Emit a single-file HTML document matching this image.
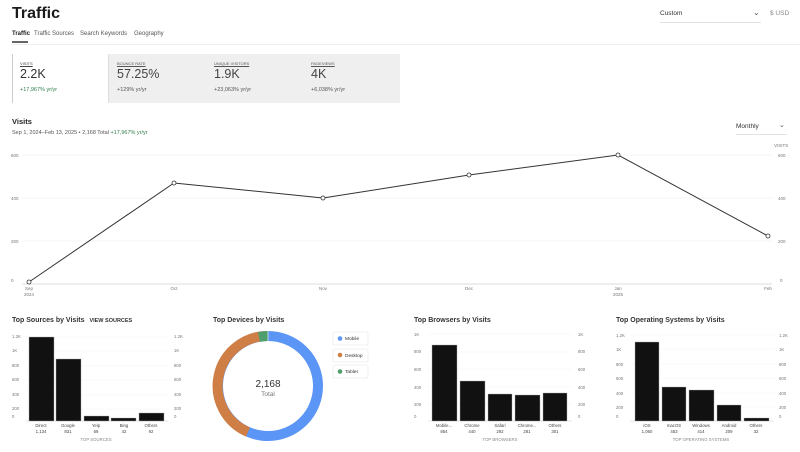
<!DOCTYPE html>
<html><head><meta charset="utf-8"><style>
body{margin:0;width:800px;height:452px;background:#fff;font-family:"Liberation Sans",sans-serif;color:#222;position:relative;overflow:hidden}
.a{position:absolute;white-space:nowrap}
</style></head><body>
<div class="a" style="left:12px;top:5px;font-size:16px;font-weight:bold;color:#1a1a1a">Traffic</div>
<div class="a" style="left:12px;top:31px;font-size:6px;font-weight:bold">Traffic</div>
<div class="a" style="left:34px;top:31px;font-size:6px;color:#555">Traffic Sources</div>
<div class="a" style="left:80px;top:31px;font-size:6px;color:#555">Search Keywords</div>
<div class="a" style="left:134px;top:31px;font-size:6px;color:#555">Geography</div>
<div class="a" style="left:12px;top:41px;width:16px;height:2px;background:#666"></div>
<div class="a" style="left:12px;top:44px;width:788px;height:1px;background:#eee"></div>
<div class="a" style="left:660px;top:10px;font-size:6.5px;color:#333">Custom</div>
<div class="a" style="left:753px;top:8px;font-size:8px;color:#555">&#8964;</div>
<div class="a" style="left:660px;top:22px;width:101px;height:1px;background:#e3e3e3"></div>
<div class="a" style="left:770px;top:10px;font-size:6.5px;color:#888">$ USD</div>
<div class="a" style="left:12px;top:54px;width:1px;height:49px;background:#ccc"></div>
<div class="a" style="left:108px;top:54px;width:291px;height:49px;background:#efefef;border-left:1px solid #ddd"></div>
<div class="a" style="left:20px;top:61px;font-size:4px;color:#444;text-decoration:underline">VISITS</div>
<div class="a" style="left:20px;top:67px;font-size:12.5px;color:#333">2.2K</div>
<div class="a" style="left:20px;top:87px;font-size:5.5px;color:#2e7d4a">+17,967% yr/yr</div>
<div class="a" style="left:117px;top:61px;font-size:4px;color:#555;text-decoration:underline">BOUNCE RATE</div>
<div class="a" style="left:117px;top:67px;font-size:12.5px;color:#444">57.25%</div>
<div class="a" style="left:117px;top:87px;font-size:5.5px;color:#555">+129% yr/yr</div>
<div class="a" style="left:214px;top:61px;font-size:4px;color:#555;text-decoration:underline">UNIQUE VISITORS</div>
<div class="a" style="left:214px;top:67px;font-size:12.5px;color:#444">1.9K</div>
<div class="a" style="left:214px;top:87px;font-size:5.5px;color:#555">+23,063% yr/yr</div>
<div class="a" style="left:311px;top:61px;font-size:4px;color:#555;text-decoration:underline">PAGEVIEWS</div>
<div class="a" style="left:311px;top:67px;font-size:12.5px;color:#444">4K</div>
<div class="a" style="left:311px;top:87px;font-size:5.5px;color:#555">+6,038% yr/yr</div>
<div class="a" style="left:12px;top:117px;font-size:7.5px;font-weight:bold">Visits</div>
<div class="a" style="left:12px;top:130px;font-size:5.5px;color:#555">Sep 1, 2024–Feb 13, 2025 • 2,168 Total <span style="color:#2e7d4a">+17,967% yr/yr</span></div>
<div class="a" style="left:736px;top:123px;font-size:6.5px;color:#333">Monthly</div>
<div class="a" style="left:779px;top:121px;font-size:7px;color:#555">&#8964;</div>
<div class="a" style="left:736px;top:134px;width:51px;height:1px;background:#e3e3e3"></div>
<svg class="a" style="left:0;top:0" width="800" height="452" font-family="Liberation Sans" font-size="4.5" fill="#777">
<text x="774" y="147" >VISITS</text>
<g stroke="#f0f0f0" stroke-width="0.7"><line x1="22" y1="155" x2="772" y2="155"/><line x1="22" y1="198" x2="772" y2="198"/><line x1="22" y1="241" x2="772" y2="241"/></g>
<line x1="22" y1="284" x2="772" y2="284" stroke="#ddd" stroke-width="1"/>
<text x="11" y="157">600</text><text x="11" y="200">400</text><text x="11" y="243">200</text><text x="11" y="282">0</text>
<text x="778" y="157">600</text><text x="778" y="200">400</text><text x="778" y="243">200</text><text x="780" y="282">0</text>
<g text-anchor="middle"><text x="29" y="290">Sep</text><text x="29" y="296">2024</text><text x="174" y="290">Oct</text><text x="323" y="290">Nov</text><text x="469" y="290">Dec</text><text x="618" y="290">Jan</text><text x="618" y="296">2025</text><text x="768" y="290">Feb</text></g>
<polyline points="29,282 174,183 323,198 469,175 618,155 768,236" fill="none" stroke="#333" stroke-width="1"/>
<g fill="#fff" stroke="#333" stroke-width="0.8"><circle cx="29" cy="282" r="2"/><circle cx="174" cy="183" r="2"/><circle cx="323" cy="198" r="2"/><circle cx="469" cy="175" r="2"/><circle cx="618" cy="155" r="2"/><circle cx="768" cy="236" r="2"/></g>

<text x="12" y="322" font-size="7" font-weight="bold" fill="#333">Top Sources by Visits <tspan font-size="5.5" dx="3">VIEW SOURCES</tspan></text>
<g stroke="#f2f2f2" stroke-width="0.6"><line x1="26" y1="337" x2="168" y2="337"/><line x1="26" y1="351" x2="168" y2="351"/><line x1="26" y1="366" x2="168" y2="366"/><line x1="26" y1="380" x2="168" y2="380"/><line x1="26" y1="395" x2="168" y2="395"/><line x1="26" y1="409" x2="168" y2="409"/></g>
<line x1="26" y1="421" x2="168" y2="421" stroke="#ddd" stroke-width="0.7"/>
<g font-size="4.3"><text x="12" y="338">1.2K</text><text x="12" y="352">1K</text><text x="12" y="367">800</text><text x="12" y="381">600</text><text x="12" y="396">400</text><text x="12" y="410">200</text><text x="12" y="418">0</text>
<text x="174" y="338">1.2K</text><text x="174" y="352">1K</text><text x="174" y="367">800</text><text x="174" y="381">600</text><text x="174" y="396">400</text><text x="174" y="410">200</text><text x="174" y="418">0</text></g>
<g fill="#111" stroke="#aaa" stroke-width="0.4"><rect x="29" y="337" width="25" height="84"/><rect x="56" y="359" width="25" height="62"/><rect x="84" y="416" width="25" height="5"/><rect x="111" y="418" width="25" height="3"/><rect x="139" y="413" width="25" height="8"/></g>
<g text-anchor="middle" font-size="4.3" fill="#444"><text x="41" y="427">Direct</text><text x="41" y="433">1,134</text><text x="68" y="427">Google</text><text x="68" y="433">831</text><text x="96" y="427">Yelp</text><text x="96" y="433">69</text><text x="124" y="427">Bing</text><text x="124" y="433">42</text><text x="151" y="427">Others</text><text x="151" y="433">92</text><text x="96" y="441" fill="#888">TOP SOURCES</text></g>

<text x="213" y="322" font-size="7" font-weight="bold" fill="#333">Top Devices by Visits</text>
<g fill="none" stroke-width="10">
<circle cx="268" cy="386" r="50" stroke="#5b95f5"/>
<path d="M268,336 A50,50 0 0 0 248,432" stroke="#cf7f45"/>
<path d="M268,336 A50,50 0 0 0 259,337" stroke="#4f9e6d"/>
</g>
<line x1="268" y1="331" x2="268" y2="341" stroke="#fff" stroke-width="0.6"/>
<text x="268" y="387" text-anchor="middle" font-size="10" fill="#333">2,168</text>
<text x="268" y="396" text-anchor="middle" font-size="6.5" fill="#777">Total</text>
<g fill="#fff" stroke="#e6e6e6" stroke-width="0.6"><rect x="333" y="332" width="35" height="13" rx="1.5"/><rect x="333" y="349" width="35" height="13" rx="1.5"/><rect x="333" y="365" width="35" height="13" rx="1.5"/></g>
<circle cx="340" cy="338.5" r="2.3" fill="#5b95f5"/><circle cx="340" cy="355" r="2.3" fill="#cf7f45"/><circle cx="340" cy="371.5" r="2.3" fill="#4f9e6d"/>
<g font-size="4.8" fill="#333"><text x="345" y="340">Mobile</text><text x="345" y="357">Desktop</text><text x="345" y="373">Tablet</text></g>

<text x="414" y="322" font-size="7" font-weight="bold" fill="#333">Top Browsers by Visits</text>
<g stroke="#f2f2f2" stroke-width="0.6"><line x1="428" y1="334" x2="572" y2="334"/><line x1="428" y1="352" x2="572" y2="352"/><line x1="428" y1="369" x2="572" y2="369"/><line x1="428" y1="387" x2="572" y2="387"/><line x1="428" y1="404" x2="572" y2="404"/></g>
<line x1="428" y1="421" x2="572" y2="421" stroke="#ddd" stroke-width="0.7"/>
<g font-size="4.3"><text x="414" y="336">1K</text><text x="414" y="353">800</text><text x="414" y="371">600</text><text x="414" y="389">400</text><text x="414" y="406">200</text><text x="414" y="418">0</text>
<text x="578" y="336">1K</text><text x="578" y="353">800</text><text x="578" y="371">600</text><text x="578" y="389">400</text><text x="578" y="406">200</text><text x="578" y="418">0</text></g>
<g fill="#111" stroke="#aaa" stroke-width="0.4"><rect x="432" y="345" width="25" height="76"/><rect x="460" y="381" width="25" height="40"/><rect x="488" y="394" width="24" height="27"/><rect x="515" y="395" width="25" height="26"/><rect x="543" y="393" width="24" height="28"/></g>
<g text-anchor="middle" font-size="4.3" fill="#444"><text x="444" y="427">Mobile...</text><text x="444" y="433">854</text><text x="472" y="427">Chrome</text><text x="472" y="433">440</text><text x="500" y="427">Safari</text><text x="500" y="433">292</text><text x="527" y="427">Chrome...</text><text x="527" y="433">281</text><text x="555" y="427">Others</text><text x="555" y="433">301</text><text x="500" y="441" fill="#888">TOP BROWSERS</text></g>

<text x="616" y="322" font-size="7" font-weight="bold" fill="#333">Top Operating Systems by Visits</text>
<g stroke="#f2f2f2" stroke-width="0.6"><line x1="630" y1="335" x2="774" y2="335"/><line x1="630" y1="349" x2="774" y2="349"/><line x1="630" y1="364" x2="774" y2="364"/><line x1="630" y1="378" x2="774" y2="378"/><line x1="630" y1="393" x2="774" y2="393"/><line x1="630" y1="407" x2="774" y2="407"/></g>
<line x1="630" y1="421" x2="774" y2="421" stroke="#ddd" stroke-width="0.7"/>
<g font-size="4.3"><text x="616" y="337">1.2K</text><text x="616" y="351">1K</text><text x="616" y="366">800</text><text x="616" y="380">600</text><text x="616" y="395">400</text><text x="616" y="409">200</text><text x="616" y="418">0</text>
<text x="779" y="337">1.2K</text><text x="779" y="351">1K</text><text x="779" y="366">800</text><text x="779" y="380">600</text><text x="779" y="395">400</text><text x="779" y="409">200</text><text x="779" y="418">0</text></g>
<g fill="#111" stroke="#aaa" stroke-width="0.4"><rect x="635" y="342" width="24" height="79"/><rect x="662" y="387" width="24" height="34"/><rect x="689" y="390" width="25" height="31"/><rect x="717" y="405" width="24" height="16"/><rect x="744" y="418" width="25" height="3"/></g>
<g text-anchor="middle" font-size="4.3" fill="#444"><text x="647" y="427">iOS</text><text x="647" y="433">1,060</text><text x="674" y="427">macOS</text><text x="674" y="433">453</text><text x="701" y="427">Windows</text><text x="701" y="433">414</text><text x="729" y="427">Android</text><text x="729" y="433">209</text><text x="756" y="427">Others</text><text x="756" y="433">32</text><text x="701" y="441" fill="#888">TOP OPERATING SYSTEMS</text></g>
</svg>
</body></html>
